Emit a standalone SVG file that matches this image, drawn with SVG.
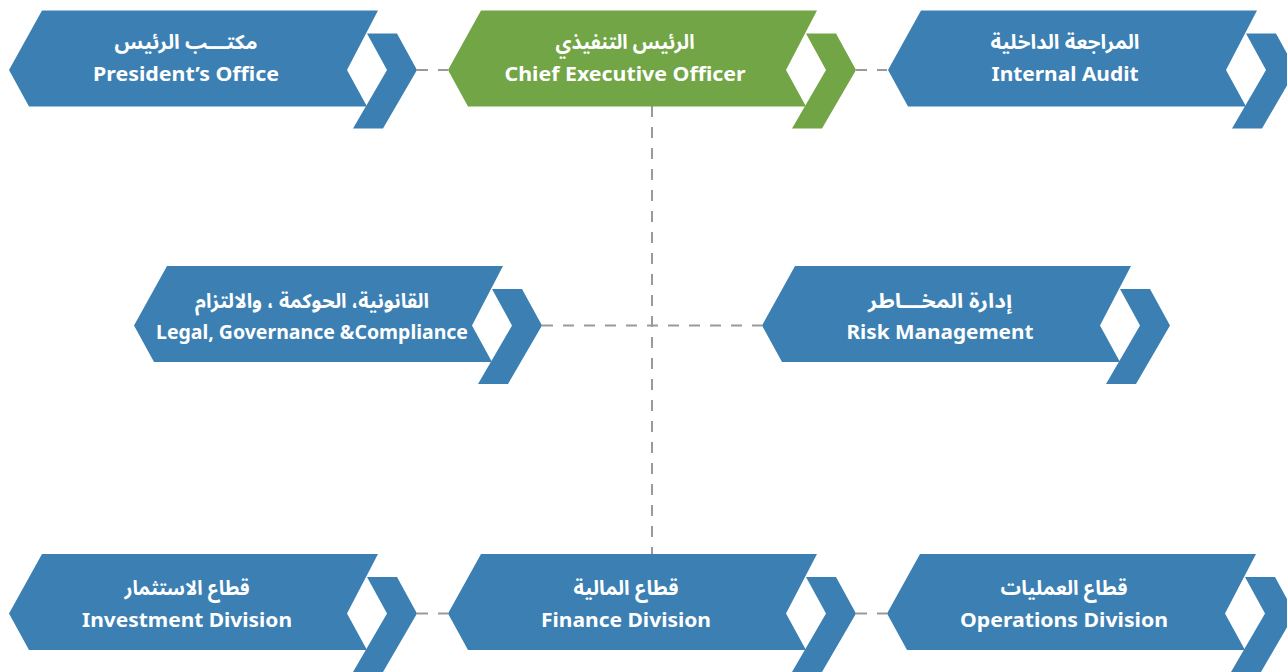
<svg xmlns="http://www.w3.org/2000/svg" width="1287" height="672" viewBox="0 0 1287 672">
  <style>
    .blue { fill: #3c80b3; }
    .green { fill: #71a545; }
    .conn { stroke: #9a9a9a; stroke-width: 2; stroke-dasharray: 11 10; fill: none; }
    .en { font-family: "Noto Sans", "Open Sans", "DejaVu Sans", sans-serif; font-weight: 700; font-size: 19px; fill: #ffffff; text-anchor: middle; }
    .ar { font-family: "Noto Sans Arabic", "Noto Naskh Arabic", "DejaVu Sans", sans-serif; font-weight: 700; font-size: 20px; fill: #ffffff; text-anchor: middle; }
  </style>
  <defs>
    <path id="body" d="M -336,0 L 0,0 L -31,59.5 L -11,96 L -349,96 L -369,59.5 Z"/>
    <path id="chev" d="M -11,23 L 19,23 L 39,59.5 L 5,118 L -25,118 L 9,59.5 Z"/>
  </defs>
  <rect width="1287" height="672" fill="#ffffff"/>
  <g id="connectors">
    <line class="conn" x1="417" y1="70" x2="448" y2="70"/>
    <line class="conn" x1="856" y1="70" x2="887" y2="70"/>
    <line class="conn" x1="652" y1="106" x2="652" y2="555"/>
    <line class="conn" x1="542" y1="325.5" x2="762" y2="325.5"/>
    <line class="conn" x1="417" y1="613.5" x2="448" y2="613.5"/>
    <line class="conn" x1="856" y1="613.5" x2="887" y2="613.5"/>
  </g>
  <g id="presidents-office" transform="translate(378,10.5)">
    <use href="#body" class="blue"/>
    <use href="#chev" class="blue"/>
    <text class="ar" x="-192" y="38.5" direction="rtl" textLength="143" lengthAdjust="spacingAndGlyphs">مكتـــب الرئيس</text>
    <text class="en" x="-192" y="70" textLength="186" lengthAdjust="spacingAndGlyphs">President’s Office</text>
  </g>
  <g id="ceo" transform="translate(817,10.5)">
    <use href="#body" class="green"/>
    <use href="#chev" class="green"/>
    <text class="ar" x="-192" y="38.5" direction="rtl" textLength="139" lengthAdjust="spacingAndGlyphs">الرئيس التنفيذي</text>
    <text class="en" x="-192" y="70" textLength="241" lengthAdjust="spacingAndGlyphs">Chief Executive Officer</text>
  </g>
  <g id="internal-audit" transform="translate(1257,10.5)">
    <use href="#body" class="blue"/>
    <use href="#chev" class="blue"/>
    <text class="ar" x="-192" y="38.5" direction="rtl" textLength="149" lengthAdjust="spacingAndGlyphs">المراجعة الداخلية</text>
    <text class="en" x="-192" y="70" textLength="147" lengthAdjust="spacingAndGlyphs">Internal Audit</text>
  </g>
  <g id="legal" transform="translate(503,266)">
    <use href="#body" class="blue"/>
    <use href="#chev" class="blue"/>
    <text class="ar" x="-191" y="42" direction="rtl" textLength="234" lengthAdjust="spacingAndGlyphs">القانونية، الحوكمة ، والالتزام</text>
    <text class="en" x="-191" y="73" textLength="312" lengthAdjust="spacingAndGlyphs">Legal, Governance &amp;Compliance</text>
  </g>
  <g id="risk-management" transform="translate(1131,266)">
    <use href="#body" class="blue"/>
    <use href="#chev" class="blue"/>
    <text class="ar" x="-191" y="42" direction="rtl" textLength="144" lengthAdjust="spacingAndGlyphs">إدارة المخـــاطر</text>
    <text class="en" x="-191" y="73" textLength="187" lengthAdjust="spacingAndGlyphs">Risk Management</text>
  </g>
  <g id="investment-division" transform="translate(378,554)">
    <use href="#body" class="blue"/>
    <use href="#chev" class="blue"/>
    <text class="ar" x="-191" y="41" direction="rtl" textLength="125" lengthAdjust="spacingAndGlyphs">قطاع الاستثمار</text>
    <text class="en" x="-191" y="73" textLength="210" lengthAdjust="spacingAndGlyphs">Investment Division</text>
  </g>
  <g id="finance-division" transform="translate(817,554)">
    <use href="#body" class="blue"/>
    <use href="#chev" class="blue"/>
    <text class="ar" x="-191" y="41" direction="rtl" textLength="105" lengthAdjust="spacingAndGlyphs">قطاع المالية</text>
    <text class="en" x="-191" y="73" textLength="170" lengthAdjust="spacingAndGlyphs">Finance Division</text>
  </g>
  <g id="operations-division" transform="translate(1256,554)">
    <use href="#body" class="blue"/>
    <use href="#chev" class="blue"/>
    <text class="ar" x="-192" y="41" direction="rtl" textLength="127" lengthAdjust="spacingAndGlyphs">قطاع العمليات</text>
    <text class="en" x="-192" y="73" textLength="208" lengthAdjust="spacingAndGlyphs">Operations Division</text>
  </g>
</svg>
